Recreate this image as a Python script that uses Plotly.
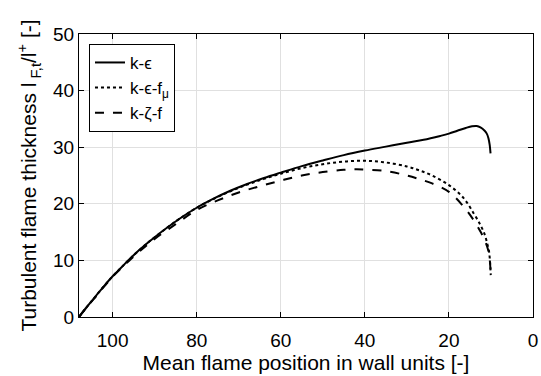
import plotly.graph_objects as go

# Mean flame position in wall units and normalised turbulent flame thickness
x_ke = [108, 106, 104, 102, 100, 98, 96, 94, 92, 90, 87, 84, 80, 76, 72, 68, 64, 60,
        55, 50, 45, 40, 35, 30, 26, 22, 20, 18, 16, 14.5, 13.4, 12.5, 11.5, 11, 10.6,
        10.3, 10.1]
y_ke = [0, 1.9, 3.7, 5.5, 7.2, 8.7, 10.2, 11.6, 12.9, 14.1, 15.8, 17.4, 19.3, 20.9,
        22.3, 23.5, 24.55, 25.5, 26.65, 27.65, 28.6, 29.4, 30.1, 30.8, 31.3, 32.0, 32.4,
        32.9, 33.4, 33.7, 33.75, 33.5, 32.9, 32.4, 31.6, 30.4, 28.9]

x_kef = [108, 106, 104, 102, 100, 98, 96, 94, 92, 90, 87, 84, 80, 76, 72, 68, 64, 60,
         55, 50, 45, 40, 35, 30, 27, 24, 20, 16.5, 14.1, 12.5, 11.5, 10.9, 10.5, 10.3,
         10.15, 10.05]
y_kef = [0, 1.9, 3.7, 5.5, 7.2, 8.7, 10.2, 11.6, 12.9, 14.1, 15.8, 17.4, 19.3, 20.85,
         22.2, 23.4, 24.4, 25.3, 26.3, 27.0, 27.45, 27.6, 27.3, 26.6, 25.9, 25.0, 23.3,
         21.0, 18.3, 16.25, 14.6, 13.0, 11.8, 10.5, 9.0, 7.4]

x_kzf = [108, 106, 104, 102, 100, 98, 96, 94, 92, 90, 85, 80, 75, 70, 65, 60, 55, 50,
         45, 42, 40, 35, 30, 27, 24, 20, 16.5, 14.1, 12.5, 11.5, 10.9, 10.5, 10.3,
         10.15, 10.05]
y_kzf = [0, 1.9, 3.6, 5.4, 7.1, 8.6, 10.0, 11.35, 12.6, 13.8, 16.4, 18.9, 20.6, 22.0,
         23.1, 24.1, 25.0, 25.6, 26.0, 26.1, 26.05, 25.8, 25.0, 24.35, 23.6, 22.1,
         19.5, 17.1, 15.1, 13.6, 12.4, 11.3, 10.2, 8.8, 7.3]

names = ["k-ϵ", "k-ϵ-f<sub>μ</sub>", "k-ζ-f"]

FONT = "Liberation Sans, Arial, Helvetica, sans-serif"

fig = go.Figure()
fig.add_trace(go.Scatter(x=x_ke, y=y_ke, mode="lines", name=names[0],
                         line=dict(color="black", width=2, dash="solid", shape="spline")))
fig.add_trace(go.Scatter(x=x_kef, y=y_kef, mode="lines", name=names[1],
                         line=dict(color="black", width=2, dash="dot", shape="spline")))
fig.add_trace(go.Scatter(x=x_kzf, y=y_kzf, mode="lines", name=names[2],
                         line=dict(color="black", width=2, dash="dash", shape="spline")))

axis_common = dict(
    showline=True, linecolor="black", linewidth=1, mirror="ticks",
    ticks="inside", ticklen=5, tickcolor="black", tickwidth=1,
    showgrid=True, gridcolor="#e0e0e0", gridwidth=1, zeroline=False,
    automargin=False,
    tickfont=dict(family=FONT, size=19, color="black"),
)

fig.update_xaxes(range=[108, 0], tickvals=[100, 80, 60, 40, 20, 0],
                 ticklabelstandoff=6,
                 title=dict(text="Mean flame position in wall units [-]",
                            font=dict(family=FONT, size=21, color="black"), standoff=2),
                 **axis_common)
fig.update_yaxes(range=[0, 50], tickvals=[0, 10, 20, 30, 40, 50],
                 title=dict(text="Turbulent flame thickness l<sub> F,t</sub>/l<sup>+</sup> [-]",
                            font=dict(family=FONT, size=21, color="black"), standoff=10),
                 **axis_common)

fig.update_layout(
    width=541, height=376,
    margin=dict(l=79, r=8, t=34, b=59),
    paper_bgcolor="white", plot_bgcolor="white",
    font=dict(family=FONT, color="black"),
    legend=dict(x=0.022, y=0.965, xanchor="left", yanchor="top",
                bgcolor="white", bordercolor="black", borderwidth=1,
                font=dict(family=FONT, size=17, color="black"), tracegroupgap=0),
    showlegend=True,
)

fig.write_html("out.html")
